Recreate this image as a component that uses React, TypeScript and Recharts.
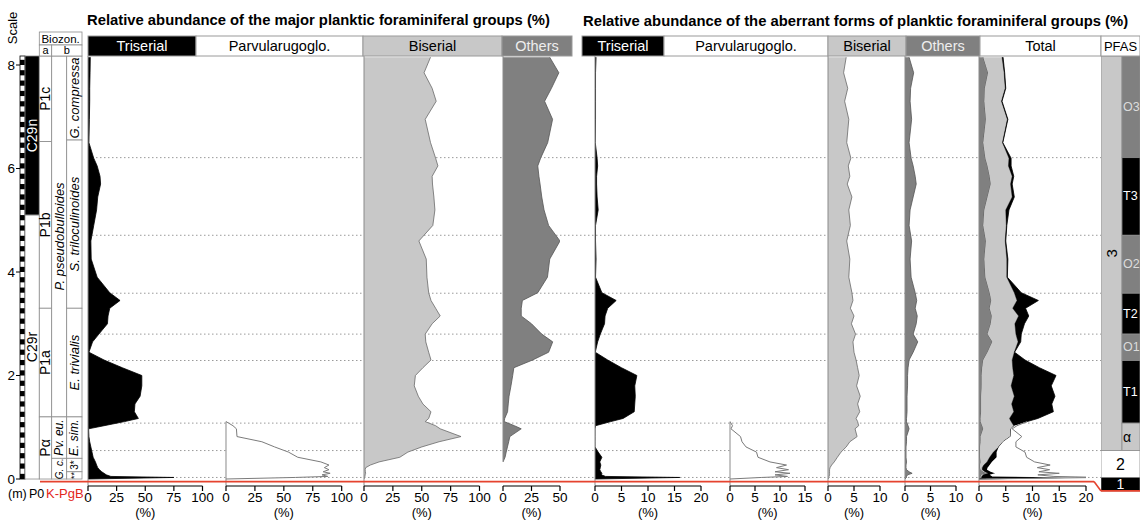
import React from 'react';
import { ComposedChart, Area, XAxis, YAxis, ReferenceLine, ReferenceArea } from 'recharts';

const FONT = '"Liberation Sans", Arial, Helvetica, sans-serif';
const W = 1140;
const H = 520;
const TOP = 56;
const BOTTOM = 486;
const YMIN = -0.135;
const YMAX = 8.174;
const GL = '#c8c8c8';
const GD = '#808080';

// ---------- sample depths (m) ----------
const depths = [8.15, 7.85, 7.55, 7.3, 6.95, 6.5, 6.2, 6.05, 5.85, 5.7, 5.45, 5.2, 4.9, 4.6, 4.25, 3.9, 3.6, 3.45, 3.3, 3.15, 3.0, 2.8, 2.65, 2.45, 2.3, 2.15, 2.0, 1.8, 1.6, 1.45, 1.3, 1.17, 1.11, 1.03, 0.97, 0.82, 0.72, 0.62, 0.52, 0.42, 0.33, 0.27, 0.22, 0.18, 0.14, 0.11, 0.08, 0.05, 0.03, 0.0];

const N = null;
// ---------- major planktic foraminiferal groups (%) ----------
const majTriserial = [2, 1.8, 1.5, 1.5, 1.2, 0.8, 5, 8, 10.5, 11, 8.5, 7.5, 5, 2.5, 2.8, 8, 19, 28, 19, 17.5, 17, 9.5, 4, 0.8, 14, 30, 47, 47, 45.5, 41, 40.5, 44, 32, 14, 0.5, 0.8, 1.5, 2.5, 3.5, 4.5, 6.5, 7.5, 8.5, 10, 12, 14, 16, 20, 75, 0];
const majParvul = [N, N, N, N, N, N, N, N, N, N, N, N, N, N, N, N, N, N, N, N, N, N, N, N, N, N, N, N, N, N, N, N, 0, 6, 9, 9.5, 31, 42, 54, 62, 82, 89, 85, 89, 84, 90, 83, 88, 60, 0];
const majBiserial = [57.6, 52, 59, 62.5, 53, 57.6, 62, 64, 59, 59.3, 60.5, 61.4, 59.6, 47.5, 53.9, 54.5, 56, 58, 62, 66, 59, 53, 53.5, 56, 58, 51, 44.5, 43.5, 47, 51, 58, 56, 53, 62, 66, 84, 65, 50, 38, 31, 13, 5.5, 1.5, 1, 1.2, 1.4, 1, 0.8, 0.5, 0];
const majOthers = [41, 49, 42.5, 36.5, 43.5, 39.2, 33, 30.5, 31.5, 32.5, 34, 36, 40, 50, 41, 39, 30.5, 17, 16, 16, 25, 34, 43.6, 40, 26, 9.5, 8.5, 7, 5.3, 4.6, 4, 1.5, 1, 10, 16, 6, 5, 3.9, 2.8, 1.8, 0, N, N, N, N, N, N, N, N, N];

// ---------- aberrant forms (%) ----------
const abTriserial = [0.2, 0.1, 0.1, 0.1, 0.1, 0.05, 0.4, 0.5, 0.3, 0.3, 0.4, 0.6, 0.1, 0.1, 0.2, 0.1, 1.3, 4, 2.4, 1.9, 1.8, 1.0, 0.5, 0.05, 2.4, 5, 7.9, 7.5, 7.6, 7.5, 7.4, 5.3, 3, 0.1, 0, 0, 0, 0, 0.6, 1.3, 0.9, 1.1, 1, 0.9, 1.1, 1.3, 1.2, 2, 16, 0];
const abParvul = [N, N, N, N, N, N, N, N, N, N, N, N, N, N, N, N, N, N, N, N, N, N, N, N, N, N, N, N, N, N, N, N, 0, 0.5, 0.2, 2.1, 2.4, 3.2, 5.3, 5.6, 8, 11.3, 9.3, 11.7, 9, 12, 9, 11.5, 6.3, 0];
const abBiserial = [3.5, 3, 3.8, 3.2, 4, 3.6, 4.4, 3.9, 4.2, 3.7, 4.6, 4, 4.3, 3.6, 4.2, 4, 4.6, 4.8, 4.3, 5, 4.5, 5.3, 4.8, 5, 5.4, 5.7, 6, 5.5, 6.2, 5.7, 6.1, 5.4, 5.7, 5.9, 5.2, 5.6, 4.2, 3.5, 2.5, 1.8, 1.2, 0.7, 0.4, 0.3, 0.3, 0.3, 0.3, 0.2, 0.2, 0];
const abOthers = [0.8, 1.7, 1.1, 1, 1.3, 0.8, 1.2, 1.6, 2, 2.2, 1.6, 1, 0.8, 1.3, 1, 1.2, 2, 2.3, 2, 2.4, 2.2, 1.6, 2.5, 1.6, 0.8, 0.6, 0.5, 0.5, 0.4, 0.4, 0.4, 0.3, 0.3, 0.6, 0.8, 0.3, 0.3, 0.2, 0.2, 0.2, 0.3, 0.2, 0.2, 0.3, 0.8, 1.4, 0.5, 0.3, 0.3, 0];

// ---------- axis ticks ----------
const ticks100 = [0, 25, 50, 75, 100];
const ticks50 = [0, 25, 50];
const ticks20 = [0, 5, 10, 15, 20];
const ticks15 = [0, 5, 10, 15];
const ticks10 = [0, 5, 10];
const depthTicks = [0, 2, 4, 6, 8];

// ---------- zones ----------
type Zone = { label: string; top: number; base: number; fill: string; color?: string; rot?: boolean; italic?: boolean; size?: number; stroke?: string; anchor?: 'start' | 'middle' };

const magZones: Zone[] = [
  { label: 'C29n', top: YMAX, base: 5.1, fill: '#000', color: '#fff', rot: true },
  { label: 'C29r', top: 5.1, base: 0, fill: '#fff', color: '#000', rot: true },
];
const zoneA: Zone[] = [
  { label: 'P1c', top: YMAX, base: 6.52, fill: '#fff', rot: true },
  { label: 'P1b', top: 6.52, base: 3.3, fill: '#fff', rot: true },
  { label: 'P1a', top: 3.3, base: 1.2, fill: '#fff', rot: true },
  { label: 'Pα', top: 1.2, base: 0, fill: '#fff', rot: true },
];
const zoneBL: Zone[] = [
  { label: 'P. pseudobulloides', top: YMAX, base: 1.2, fill: '#fff', rot: true, italic: true, size: 13 },
  { label: 'Pv. eu.', top: 1.2, base: 0.4, fill: '#fff', rot: true, italic: true, size: 12 },
  { label: 'G. c.', top: 0.4, base: 0, fill: '#fff', rot: true, italic: true, size: 10 },
];
const zoneBR: Zone[] = [
  { label: 'G. compressa', top: YMAX, base: 6.55, fill: '#fff', rot: true, italic: true, size: 13 },
  { label: 'S. triloculinoides', top: 6.55, base: 3.3, fill: '#fff', rot: true, italic: true, size: 13 },
  { label: 'E. trivialis', top: 3.3, base: 1.2, fill: '#fff', rot: true, italic: true, size: 13 },
  { label: 'E. sim.', top: 1.2, base: 0.4, fill: '#fff', rot: true, italic: true, size: 12 },
  { label: '3*', top: 0.4, base: 0.14, fill: '#fff', rot: true, size: 10 },
  { label: '**', top: 0.14, base: 0, fill: '#fff', rot: true, size: 9 },
];
const scaleStarts = Array.from({ length: 41 }, (_, i) => i * 0.2);
const scaleBlocks: Zone[] = [
  ...scaleStarts.map((b) => ({ label: '', top: Math.min(b + 0.1, YMAX), base: b, fill: '#000', stroke: 'none' })),
  { label: '', top: YMAX, base: 0, fill: 'none', stroke: '#000' },
];

const pfas3: Zone[] = [{ label: '3', top: YMAX, base: 0.55, fill: GL, rot: true, size: 15 }];
const pfasSub: Zone[] = [
  { label: 'O3', top: YMAX, base: 6.21, fill: GD, color: '#dcdcdc', anchor: 'start', size: 12.5 },
  { label: 'T3', top: 6.21, base: 4.71, fill: '#000', color: '#fff', anchor: 'start', size: 12.5 },
  { label: 'O2', top: 4.71, base: 3.59, fill: GD, color: '#dcdcdc', anchor: 'start', size: 12.5 },
  { label: 'T2', top: 3.59, base: 2.8, fill: '#000', color: '#fff', anchor: 'start', size: 12.5 },
  { label: 'O1', top: 2.8, base: 2.29, fill: GD, color: '#dcdcdc', anchor: 'start', size: 12.5 },
  { label: 'T1', top: 2.29, base: 1.08, fill: '#000', color: '#fff', anchor: 'start', size: 12.5 },
  { label: 'α', top: 1.08, base: 0.55, fill: GL, color: '#000', anchor: 'start', size: 14 },
];
const pfasLow: Zone[] = [
  { label: '2', top: 0.55, base: 0.03, fill: '#fff', color: '#000', size: 16 },
  { label: '1', top: 0.03, base: -0.23, fill: '#000', color: '#fff', size: 14 },
];
const dottedDepths = [...pfasSub.map((z) => z.base), pfasLow[0].base];

const headers = [
  { t: 'Triserial', x0: 88, x1: 196, bg: '#000', c: '#fff' },
  { t: 'Parvularugoglo.', x0: 196, x1: 363, bg: '#fff', c: '#000' },
  { t: 'Biserial', x0: 363, x1: 502, bg: GL, c: '#000' },
  { t: 'Others', x0: 502, x1: 572, bg: GD, c: '#eeeeee' },
  { t: 'Triserial', x0: 582, x1: 664, bg: '#000', c: '#fff' },
  { t: 'Parvularugoglo.', x0: 664, x1: 828, bg: '#fff', c: '#000' },
  { t: 'Biserial', x0: 828, x1: 906, bg: GL, c: '#000' },
  { t: 'Others', x0: 906, x1: 980, bg: GD, c: '#eeeeee' },
  { t: 'Total', x0: 980, x1: 1101, bg: '#fff', c: '#000' },
  { t: 'PFAS', x0: 1101, x1: 1140, bg: '#fff', c: '#000' },
];

const dummy = [{ d: 0 }];

const makeShape = (z: Zone) => (p: any) => {
  const { x, y, width, height } = p;
  const cx = x + width / 2;
  const cy = y + height / 2;
  const fs = z.size ?? 14;
  return (
    <g>
      <rect x={x} y={y} width={width} height={height} fill={z.fill} stroke={z.stroke ?? '#8c8c8c'} strokeWidth={0.8} />
      {z.label ? (
        <text
          x={z.anchor === 'start' ? x + 1 : cx}
          y={cy}
          transform={z.rot ? `rotate(-90 ${cx} ${cy})` : undefined}
          textAnchor={z.anchor === 'start' ? 'start' : 'middle'}
          dominantBaseline="central"
          fontSize={fs}
          fontFamily={FONT}
          fontStyle={z.italic ? 'italic' : 'normal'}
          fill={z.color ?? '#000'}
        >
          {z.label}
        </text>
      ) : null}
    </g>
  );
};

type Col = { x1: number; x2: number; zones: Zone[] };

function ZoneChart({ left, width, domain, cols, showDepth }: { left: number; width: number; domain: [number, number]; cols: Col[]; showDepth?: boolean }) {
  return (
    <div style={{ position: 'absolute', left, top: 0 }}>
      <ComposedChart layout="vertical" width={width} height={H} data={dummy} margin={{ top: TOP, bottom: H - BOTTOM, left: 0, right: showDepth ? 8 : 0 }}>
        <XAxis type="number" domain={domain} hide allowDataOverflow />
        <YAxis
          type="number"
          dataKey="d"
          domain={[YMIN, YMAX]}
          reversed
          allowDataOverflow
          hide={!showDepth}
          width={20}
          ticks={depthTicks}
          interval={0}
          tickSize={4}
          tickMargin={1}
          axisLine={false}
          tickLine={{ stroke: '#000' }}
          tick={{ fontSize: 13.5, fill: '#000', fontFamily: FONT }}
        />
        {cols.flatMap((col, ci) =>
          col.zones.map((z, i) => (
            <ReferenceArea key={`${ci}-${i}`} x1={col.x1} x2={col.x2} y1={z.base} y2={z.top} ifOverflow="visible" shape={makeShape(z)} />
          ))
        )}
      </ComposedChart>
    </div>
  );
}

type Ser = { key: string; vals: (number | null)[]; fill: string; stroke: string; sw?: number };

function Panel({ p0, p1, max, ticks, series, stack }: { p0: number; p1: number; max: number; ticks: number[]; series: Ser[]; stack?: boolean }) {
  const M = 16;
  const data = depths.map((d, i) => {
    const row: Record<string, number | null> = { d };
    series.forEach((s) => {
      row[s.key] = s.vals[i];
    });
    return row;
  });
  const ref = series[0].vals;
  const first = ref.findIndex((v) => v !== null);
  let last = ref.length - 1;
  while (last > 0 && ref[last] === null) last--;
  const yTop = first === 0 ? YMAX : depths[first];
  const yBot = last === ref.length - 1 ? YMIN : depths[last];
  return (
    <div style={{ position: 'absolute', left: p0 - M, top: 0 }}>
      <ComposedChart layout="vertical" width={p1 - p0 + 2 * M} height={H} data={data} margin={{ top: TOP, bottom: 0, left: M, right: M }}>
        <XAxis
          type="number"
          domain={[0, max]}
          ticks={ticks}
          interval={0}
          allowDataOverflow
          height={H - BOTTOM}
          tickSize={5}
          tickMargin={1}
          axisLine={{ stroke: '#000', strokeWidth: 1.2 }}
          tickLine={{ stroke: '#000', strokeWidth: 1.2 }}
          tick={{ fontSize: 13.5, fill: '#000', fontFamily: FONT }}
          label={{ value: '(%)', position: 'insideBottom', offset: 3, fontSize: 13, fill: '#000', fontFamily: FONT }}
        />
        <YAxis type="number" dataKey="d" domain={[YMIN, YMAX]} reversed allowDataOverflow hide />
        <ReferenceLine segment={[{ x: 0, y: yTop }, { x: 0, y: yBot }]} stroke="#8a8a8a" strokeWidth={1} ifOverflow="visible" />
        {series.map((s) => (
          <Area
            key={s.key}
            dataKey={s.key}
            type="linear"
            fill={s.fill}
            fillOpacity={1}
            stroke={s.stroke}
            strokeWidth={s.sw ?? 0.8}
            stackId={stack ? 'st' : undefined}
            isAnimationActive={false}
            dot={false}
            activeDot={false}
          />
        ))}
      </ComposedChart>
    </div>
  );
}

function Overlay({ under }: { under: boolean }) {
  return (
    <div style={{ position: 'absolute', left: 0, top: 0 }}>
      <ComposedChart layout="vertical" width={W} height={H} data={dummy} margin={{ top: TOP, bottom: H - BOTTOM, left: 0, right: 0 }}>
        <XAxis type="number" domain={[0, W]} hide allowDataOverflow />
        <YAxis type="number" dataKey="d" domain={[YMIN, YMAX]} reversed allowDataOverflow hide />
        {under
          ? dottedDepths.map((b) => (
              <ReferenceLine key={b} segment={[{ x: 88, y: b }, { x: 1101, y: b }]} stroke="#9a9a9a" strokeWidth={1} strokeDasharray="1.5 2.5" ifOverflow="visible" />
            ))
          : [
              <ReferenceLine key="r1" segment={[{ x: 40, y: -0.05 }, { x: 1094, y: -0.05 }]} stroke="#e5432e" strokeWidth={1.6} ifOverflow="visible" />,
              <ReferenceLine key="r2" segment={[{ x: 1094, y: -0.05 }, { x: 1101, y: -0.23 }]} stroke="#e5432e" strokeWidth={1.6} ifOverflow="visible" />,
              <ReferenceLine key="r3" segment={[{ x: 1101, y: -0.23 }, { x: 1140, y: -0.23 }]} stroke="#e5432e" strokeWidth={1.6} ifOverflow="visible" />,
            ]}
      </ComposedChart>
    </div>
  );
}

export default function App() {
  return (
    <div style={{ position: 'absolute', left: 0, top: 0, width: W, height: H, background: '#fff', overflow: 'hidden', fontFamily: FONT }}>
      <Overlay under />

      <ZoneChart
        left={0}
        width={90}
        domain={[20, 82]}
        showDepth
        cols={[
          { x1: 20, x2: 25, zones: scaleBlocks },
          { x1: 25, x2: 39.3, zones: magZones },
          { x1: 39.3, x2: 51.7, zones: zoneA },
          { x1: 51.7, x2: 66.7, zones: zoneBL },
          { x1: 66.7, x2: 82, zones: zoneBR },
        ]}
      />

      <Panel p0={88} p1={202.5} max={100} ticks={ticks100} series={[{ key: 'v', vals: majTriserial, fill: '#000', stroke: '#000' }]} />
      <Panel p0={226} p1={341.7} max={100} ticks={ticks100} series={[{ key: 'v', vals: majParvul, fill: '#fff', stroke: '#7a7a7a', sw: 1 }]} />
      <Panel p0={363.5} p1={479} max={100} ticks={ticks100} series={[{ key: 'v', vals: majBiserial, fill: GL, stroke: '#6a6a6a' }]} />
      <Panel p0={502.5} p1={559.5} max={50} ticks={ticks50} series={[{ key: 'v', vals: majOthers, fill: GD, stroke: '#555' }]} />

      <Panel p0={595} p1={701} max={20} ticks={ticks20} series={[{ key: 'v', vals: abTriserial, fill: '#000', stroke: '#000' }]} />
      <Panel p0={730} p1={805} max={15} ticks={ticks15} series={[{ key: 'v', vals: abParvul, fill: '#fff', stroke: '#7a7a7a', sw: 1 }]} />
      <Panel p0={828} p1={880} max={10} ticks={ticks10} series={[{ key: 'v', vals: abBiserial, fill: GL, stroke: '#6a6a6a' }]} />
      <Panel p0={905} p1={956} max={10} ticks={ticks10} series={[{ key: 'v', vals: abOthers, fill: GD, stroke: '#555' }]} />
      <Panel
        p0={979}
        p1={1086}
        max={20}
        ticks={ticks20}
        stack
        series={[
          { key: 'o', vals: abOthers, fill: GD, stroke: '#555' },
          { key: 'b', vals: abBiserial, fill: GL, stroke: '#6a6a6a' },
          { key: 't', vals: abTriserial, fill: '#000', stroke: '#000' },
          { key: 'p', vals: abParvul, fill: '#fff', stroke: '#7a7a7a', sw: 1 },
        ]}
      />

      <ZoneChart
        left={1101}
        width={39}
        domain={[0, 39]}
        cols={[
          { x1: 0, x2: 21, zones: pfas3 },
          { x1: 21, x2: 39, zones: pfasSub },
          { x1: 0, x2: 39, zones: pfasLow },
        ]}
      />

      <Overlay under={false} />

      <svg width={W} height={H} style={{ position: 'absolute', left: 0, top: 0, pointerEvents: 'none' }}>
        <text x={87} y={25} fontSize={14.8} fontWeight="bold" fontFamily={FONT} fill="#000">
          Relative abundance of the major planktic foraminiferal groups (%)
        </text>
        <text x={583} y={26} fontSize={14.8} fontWeight="bold" fontFamily={FONT} fill="#000">
          Relative abundance of the aberrant forms of planktic foraminiferal groups (%)
        </text>
        {headers.map((h, i) => (
          <g key={i}>
            <rect x={h.x0} y={36} width={h.x1 - h.x0} height={20} fill={h.bg} stroke="#9a9a9a" strokeWidth={1} />
            <text x={(h.x0 + h.x1) / 2} y={51} textAnchor="middle" fontSize={i === headers.length - 1 ? 13 : 14.5} fontFamily={FONT} fill={h.c}>
              {h.t}
            </text>
          </g>
        ))}
        <rect x={39.3} y={32} width={42.7} height={13} fill="#fff" stroke="#8c8c8c" strokeWidth={0.8} />
        <text x={60.6} y={42.5} textAnchor="middle" fontSize={11.5} fontFamily={FONT}>Biozon.</text>
        <rect x={39.3} y={45} width={12.4} height={11} fill="#fff" stroke="#8c8c8c" strokeWidth={0.8} />
        <rect x={51.7} y={45} width={30.3} height={11} fill="#fff" stroke="#8c8c8c" strokeWidth={0.8} />
        <text x={45.5} y={54} textAnchor="middle" fontSize={11} fontFamily={FONT}>a</text>
        <text x={66.8} y={54} textAnchor="middle" fontSize={11} fontFamily={FONT}>b</text>
        <text x={0} y={0} transform="translate(17 28) rotate(-90)" textAnchor="middle" fontSize={13} fontFamily={FONT}>Scale</text>
        <text x={8} y={497.5} fontSize={12.5} fontFamily={FONT}>(m)</text>
        <text x={29} y={497.5} fontSize={12.5} fontFamily={FONT}>P0</text>
        <text x={46} y={497.5} fontSize={13} fontFamily={FONT} fill="#e3261b">K-PgB</text>
      </svg>
    </div>
  );
}
